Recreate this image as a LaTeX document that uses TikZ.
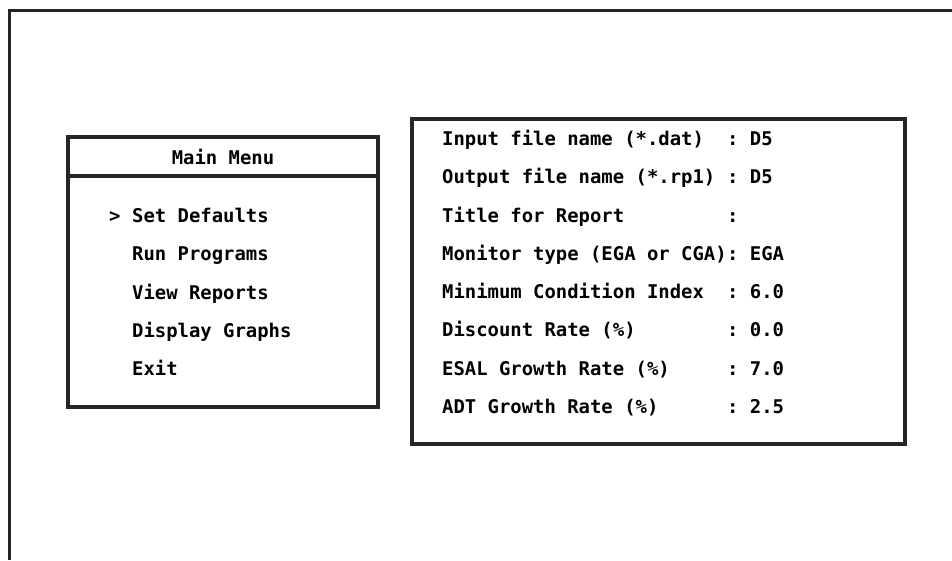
\documentclass[tikz,border=0pt]{standalone}
\usepackage{fontspec}
\setmonofont{DejaVu Sans Mono}
\tikzset{
  screentext/.style={inner sep=0pt, anchor=base west, font=\ttfamily\bfseries\fontsize{18.9}{20}\selectfont},
  boxline/.style={draw=black!85, line width=3.5pt},
  frameline/.style={draw=black!85, line width=3pt}
}
\begin{document}
\begin{tikzpicture}[x=1pt, y=-1pt]
            \useasboundingbox (0,0) rectangle (952,560);
            % screen frame
            \draw[frameline] (9,560) -- (9,10) -- (952,10);
            % main menu
            \node[boxline, minimum width=310pt, minimum height=270pt] (menu) at (223,272) {};
            \node[boxline, minimum width=310pt, minimum height=39pt, anchor=north, inner sep=0pt,
                  font=\ttfamily\bfseries\fontsize{18.9}{20}\selectfont] (menutitle) at (menu.north) {Main Menu};
            \node[screentext] (cursor) at (109,222) {>};
            \node[screentext] (setdef) at (132,222) {Set Defaults};
            \node[screentext] (runprog) at (132,260) {Run Programs};
            \node[screentext] (viewrep) at (132,299) {View Reports};
            \node[screentext] (dispgr) at (132,337) {Display Graphs};
            \node[screentext] (exit) at (132,375) {Exit};
            % defaults box
            \node[boxline, minimum width=493pt, minimum height=325pt] (defaults) at (658.5,281.5) {};
            \node[screentext] (infile) at (442,145) {Input file name (*.dat)};
            \node[screentext] (infileval) at (727,145) {: D5};
            \node[screentext] (outfile) at (442,183) {Output file name (*.rp1)};
            \node[screentext] (outfileval) at (727,183) {: D5};
            \node[screentext] (reptitle) at (442,222) {Title for Report};
            \node[screentext] (reptitleval) at (727,222) {:};
            \node[screentext] (monitor) at (442,260) {Monitor type (EGA or CGA)};
            \node[screentext] (monitorval) at (727,260) {: EGA};
            \node[screentext] (minci) at (442,298) {Minimum Condition Index};
            \node[screentext] (mincival) at (727,298) {: 6.0};
            \node[screentext] (discount) at (442,336) {Discount Rate (\%)};
            \node[screentext] (discountval) at (727,336) {: 0.0};
            \node[screentext] (esal) at (442,375) {ESAL Growth Rate (\%)};
            \node[screentext] (esalval) at (727,375) {: 7.0};
            \node[screentext] (adt) at (442,413) {ADT Growth Rate (\%)};
            \node[screentext] (adtval) at (727,413) {: 2.5};
\end{tikzpicture}
\end{document}
